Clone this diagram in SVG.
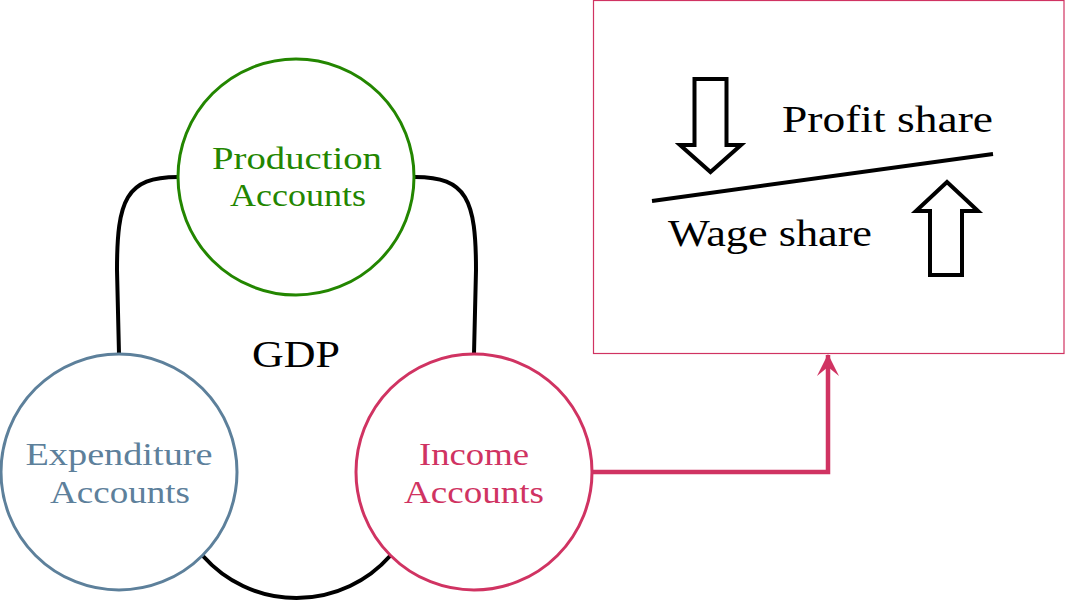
<svg xmlns="http://www.w3.org/2000/svg" width="1065" height="611" viewBox="0 0 1065 611">
<defs>
<style>
.node{fill:#fff;stroke-width:3}
.lbl{font-family:"Liberation Serif","Times New Roman","DejaVu Serif",serif;font-size:31px;text-anchor:middle}
.big{font-family:"Liberation Serif","Times New Roman","DejaVu Serif",serif;font-size:38px}
.conn{fill:none;stroke:#000;stroke-width:4}
.block{fill:#fff;stroke:#000;stroke-width:4;stroke-linejoin:miter}
</style>
<marker id="ah" viewBox="0 0 24 24" markerWidth="24" markerHeight="24" refX="22" refY="12" orient="auto" markerUnits="userSpaceOnUse">
<path d="M23,12 L1,1 L10,12 L1,23 Z" fill="#d03362"/>
</marker>
</defs>
<rect width="1065" height="611" fill="#fff"/>
<g id="connectors">
<path class="conn" d="M178,177 C126,177 117,200 117,270 L119,354"/>
<path class="conn" d="M415,177 C467,177 476,200 476,270 L474,354"/>
<path class="conn" d="M203,556 A125,125 0 0 0 390,556"/>
<path d="M593,472 L828,472 L828,355" fill="none" stroke="#d03362" stroke-width="4.5" marker-end="url(#ah)"/>
</g>
<g id="production">
<circle class="node" cx="296" cy="177" r="118" stroke="#238600"/>
<text class="lbl" fill="#238600"><tspan x="297" y="169" textLength="170" lengthAdjust="spacingAndGlyphs">Production</tspan><tspan x="298" y="206" textLength="136" lengthAdjust="spacingAndGlyphs">Accounts</tspan></text>
</g>
<g id="expenditure">
<circle class="node" cx="119" cy="472" r="118" stroke="#5d809b"/>
<text class="lbl" fill="#5d809b"><tspan x="119" y="465" textLength="187" lengthAdjust="spacingAndGlyphs">Expenditure</tspan><tspan x="120" y="503" textLength="140" lengthAdjust="spacingAndGlyphs">Accounts</tspan></text>
</g>
<g id="income">
<circle class="node" cx="474" cy="472" r="118" stroke="#d03362"/>
<text class="lbl" fill="#d03362"><tspan x="474" y="465" textLength="110" lengthAdjust="spacingAndGlyphs">Income</tspan><tspan x="474" y="503" textLength="140" lengthAdjust="spacingAndGlyphs">Accounts</tspan></text>
</g>
<g id="gdp">
<text class="big" x="296" y="367" text-anchor="middle" textLength="88" lengthAdjust="spacingAndGlyphs">GDP</text>
</g>
<g id="shares">
<rect x="593.5" y="0.5" width="470.5" height="353" fill="none" stroke="#d03362" stroke-width="1.2"/>
<path class="block" d="M694.5,79 L726.5,79 L726.5,145 L741,145 L710.5,172 L680,145 L694.5,145 Z"/>
<path class="block" d="M930,275 L962,275 L962,211 L978,211 L947,182 L916,211 L930,211 Z"/>
<line x1="652" y1="201" x2="993" y2="154" stroke="#000" stroke-width="4"/>
<text class="big" x="782" y="132" textLength="211" lengthAdjust="spacingAndGlyphs">Profit share</text>
<text class="big" x="668" y="246" textLength="204" lengthAdjust="spacingAndGlyphs">Wage share</text>
</g>
</svg>
